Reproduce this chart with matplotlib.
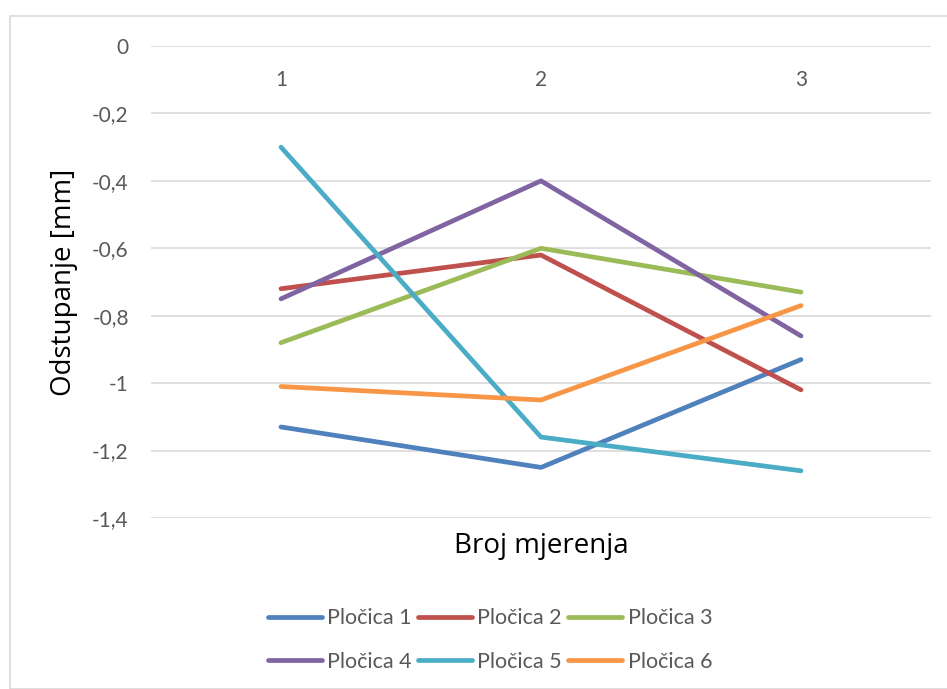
import matplotlib
matplotlib.use("Agg")
import matplotlib.pyplot as plt
from matplotlib.patches import Rectangle

categories = ["1", "2", "3"]
series_names = ["Pločica 1", "Pločica 2", "Pločica 3", "Pločica 4", "Pločica 5", "Pločica 6"]
plocica1 = [-1.13, -1.25, -0.93]
plocica2 = [-0.72, -0.62, -1.02]
plocica3 = [-0.88, -0.60, -0.73]
plocica4 = [-0.75, -0.40, -0.86]
plocica5 = [-0.30, -1.16, -1.26]
plocica6 = [-1.01, -1.05, -0.77]
y_ticks = [0, -0.2, -0.4, -0.6, -0.8, -1.0, -1.2, -1.4]
y_tick_labels = ["0", "-0,2", "-0,4", "-0,6", "-0,8", "-1", "-1,2", "-1,4"]

colors = ["#4F81BD", "#C0504D", "#9BBB59", "#8064A2", "#4BACC6", "#F79646"]
values = [plocica1, plocica2, plocica3, plocica4, plocica5, plocica6]

W, H = 947, 689
fig = plt.figure(figsize=(W / 100, H / 100), dpi=100)
fig.patch.set_facecolor("white")

# outer chart border
fig.add_artist(Rectangle((10 / W, 0), 1 - 10 / W + 0.01, 1 - 16 / H, transform=fig.transFigure,
                         fill=False, edgecolor="#d9d9d9", linewidth=1.2))

left, right, top, bottom = 151, 931, 46, 518
ax = fig.add_axes([left / W, 1 - bottom / H, (right - left) / W, (bottom - top) / H])
x = [1, 2, 3]
lines = []
for name, vals, c in zip(series_names, values, colors):
    ln, = ax.plot(x, vals, color=c, linewidth=3.4, solid_capstyle="round", solid_joinstyle="round",
                  label=name, zorder=3)
    lines.append(ln)

ax.set_xlim(0.5, 3.5)
ax.set_ylim(-1.4, 0)
ax.set_yticks(y_ticks)
ax.set_yticklabels(y_tick_labels)
ax.grid(axis="y", color="#d9d9d9", linewidth=1.2, zorder=0)
for s in ax.spines.values():
    s.set_visible(False)
ax.tick_params(axis="y", length=0, pad=16, labelsize=15, labelcolor="#595959")
ax.xaxis.tick_top()
ax.set_xticks(x)
ax.set_xticklabels(categories)
ax.tick_params(axis="x", length=0, pad=-32, labelsize=15, labelcolor="#595959")
for lab in ax.get_xticklabels() + ax.get_yticklabels():
    lab.set_fontfamily("Lato")

fig.text(64 / W, 1 - 282 / H, "Odstupanje [mm]", rotation=90, ha="center", va="center",
         fontsize=20, color="black", fontfamily="Open Sans")
fig.text(541 / W, 1 - 546 / H, "Broj mjerenja", ha="center", va="center",
         fontsize=20, color="black", fontfamily="Open Sans")

# legend in row-major order (matplotlib fills column-major)
order = [0, 3, 1, 4, 2, 5]
leg = fig.legend([lines[i] for i in order], [series_names[i] for i in order],
                 loc="center", bbox_to_anchor=(490 / W, 1 - 640 / H), ncol=3, frameon=False,
                 handlelength=2.5, handletextpad=0.25, columnspacing=0.3,
                 labelspacing=1.08, prop={"family": "Lato", "size": 15.5})
for t in leg.get_texts():
    t.set_color("#595959")

fig.savefig("out.png", dpi=100, facecolor="white")
